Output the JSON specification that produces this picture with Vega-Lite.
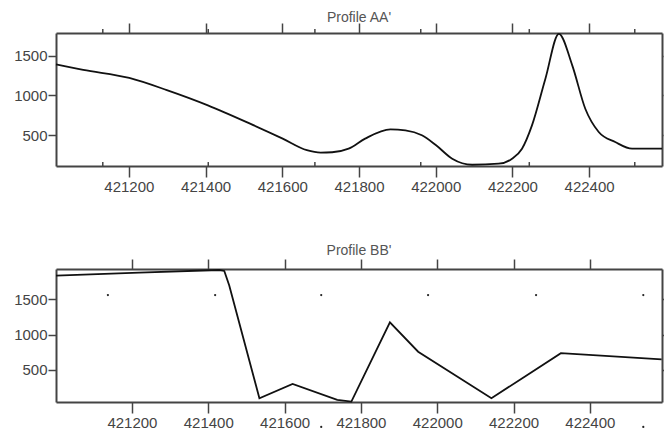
{
  "$schema": "https://vega.github.io/schema/vega-lite/v6.json",
  "padding": {"left": 0, "top": 11, "right": 0, "bottom": 0},
  "background": "white",
  "align": "none",
  "spacing": 50,
  "config": {
    "view": {"stroke": null},
    "axis": {
      "grid": false,
      "domainColor": "#444",
      "domainWidth": 2,
      "tickColor": "#444",
      "tickWidth": 1.5,
      "labelFont": "Liberation Sans",
      "labelFontSize": 15,
      "labelColor": "#444",
      "title": null
    },
    "title": {"font": "Liberation Sans", "fontSize": 14, "fontWeight": "normal", "color": "#555"}
  },
  "datasets": {
    "aa": [
      {"x": 421010, "y": 1394}, {"x": 421081, "y": 1324}, {"x": 421201, "y": 1222},
      {"x": 421299, "y": 1068}, {"x": 421406, "y": 875}, {"x": 421516, "y": 643},
      {"x": 421601, "y": 454}, {"x": 421664, "y": 308}, {"x": 421700, "y": 278},
      {"x": 421730, "y": 282}, {"x": 421773, "y": 327}, {"x": 421816, "y": 454},
      {"x": 421882, "y": 572}, {"x": 421921, "y": 559}, {"x": 421964, "y": 496},
      {"x": 422001, "y": 370}, {"x": 422043, "y": 200}, {"x": 422095, "y": 124},
      {"x": 422164, "y": 137}, {"x": 422199, "y": 200}, {"x": 422225, "y": 327},
      {"x": 422251, "y": 622}, {"x": 422286, "y": 1212}, {"x": 422321, "y": 1780},
      {"x": 422356, "y": 1381}, {"x": 422390, "y": 832}, {"x": 422425, "y": 538},
      {"x": 422468, "y": 411}, {"x": 422512, "y": 327}, {"x": 422590, "y": 327}
    ],
    "aaTicks": [
      {"x": 421132}, {"x": 421407}, {"x": 421685}, {"x": 421961}, {"x": 422244}, {"x": 422519}
    ],
    "bb": [
      {"x": 421001, "y": 1829}, {"x": 421219, "y": 1871}, {"x": 421429, "y": 1909},
      {"x": 421442, "y": 1895}, {"x": 421455, "y": 1690}, {"x": 421534, "y": 102},
      {"x": 421621, "y": 304}, {"x": 421738, "y": 78}, {"x": 421775, "y": 54},
      {"x": 421876, "y": 1171}, {"x": 421950, "y": 758}, {"x": 422142, "y": 102},
      {"x": 422229, "y": 406}, {"x": 422324, "y": 737}, {"x": 422588, "y": 651}
    ],
    "bbDots": [
      {"x": 421137, "y": 1556}, {"x": 421418, "y": 1556}, {"x": 421696, "y": 1556},
      {"x": 421976, "y": 1556}, {"x": 422259, "y": 1556}, {"x": 422540, "y": 1556},
      {"x": 421696, "y": -303}, {"x": 422540, "y": -303}
    ]
  },
  "vconcat": [
    {
      "width": 606,
      "height": 133,
      "title": {"text": "Profile AA'", "offset": -3},
      "resolve": {"axis": {"x": "independent", "y": "independent"}},
      "layer": [
        {
          "data": {"name": "aa"},
          "mark": {"type": "line", "interpolate": "monotone", "color": "#111", "strokeWidth": 1.8},
          "encoding": {
            "x": {"field": "x", "type": "quantitative", "scale": {"domain": [421010, 422590], "nice": false, "zero": false},
                  "axis": {"orient": "bottom", "values": [421200, 421400, 421600, 421800, 422000, 422200, 422400], "format": "d", "tickSize": 11, "labelPadding": 2}},
            "y": {"field": "y", "type": "quantitative", "scale": {"domain": [108, 1790], "nice": false, "zero": false},
                  "axis": {"orient": "left", "values": [500, 1000, 1500], "format": "d", "tickSize": 8, "labelPadding": 1, "minExtent": 56}}
          }
        },
        {
          "data": {"name": "aa"},
          "mark": {"type": "line", "strokeOpacity": 0},
          "encoding": {
            "x": {"field": "x", "type": "quantitative", "axis": {"orient": "top", "labels": false, "values": [421200, 421400, 421600, 421800, 422000, 422200, 422400], "tickSize": 10}},
            "y": {"field": "y", "type": "quantitative", "axis": {"orient": "right", "labels": false, "values": [500, 1000, 1500], "tickSize": 1}}
          }
        },
        {
          "data": {"name": "aaTicks"},
          "mark": {"type": "rule", "color": "#444", "strokeWidth": 1.5},
          "encoding": {
            "x": {"field": "x", "type": "quantitative", "axis": null},
            "y": {"datum": 1790, "type": "quantitative", "axis": null},
            "y2": {"datum": 1840}
          }
        },
        {
          "data": {"name": "aaTicks"},
          "mark": {"type": "rule", "color": "#444", "strokeWidth": 1.5},
          "encoding": {
            "x": {"field": "x", "type": "quantitative", "axis": null},
            "y": {"datum": 108, "type": "quantitative", "axis": null},
            "y2": {"datum": 158}
          }
        }
      ]
    },
    {
      "width": 606,
      "height": 133,
      "title": {"text": "Profile BB'", "offset": 0},
      "resolve": {"axis": {"x": "independent", "y": "independent"}},
      "layer": [
        {
          "data": {"name": "bb"},
          "mark": {"type": "line", "color": "#111", "strokeWidth": 1.8},
          "encoding": {
            "x": {"field": "x", "type": "quantitative", "scale": {"domain": [421001, 422589], "nice": false, "zero": false},
                  "axis": {"orient": "bottom", "values": [421200, 421400, 421600, 421800, 422000, 422200, 422400], "format": "d", "tickSize": 11, "labelPadding": 2}},
            "y": {"field": "y", "type": "quantitative", "scale": {"domain": [49, 1923], "nice": false, "zero": false},
                  "axis": {"orient": "left", "values": [500, 1000, 1500], "format": "d", "tickSize": 8, "labelPadding": 1, "minExtent": 50}}
          }
        },
        {
          "data": {"name": "bb"},
          "mark": {"type": "line", "strokeOpacity": 0},
          "encoding": {
            "x": {"field": "x", "type": "quantitative", "axis": {"orient": "top", "labels": false, "values": [421200, 421400, 421600, 421800, 422000, 422200, 422400], "tickSize": 10}},
            "y": {"field": "y", "type": "quantitative", "axis": {"orient": "right", "labels": false, "values": [500, 1000, 1500], "tickSize": 7}}
          }
        },
        {
          "data": {"name": "bbDots"},
          "mark": {"type": "point", "filled": true, "color": "#222", "size": 5, "opacity": 1},
          "encoding": {
            "x": {"field": "x", "type": "quantitative", "axis": null},
            "y": {"field": "y", "type": "quantitative", "axis": null}
          }
        }
      ]
    }
  ]
}
